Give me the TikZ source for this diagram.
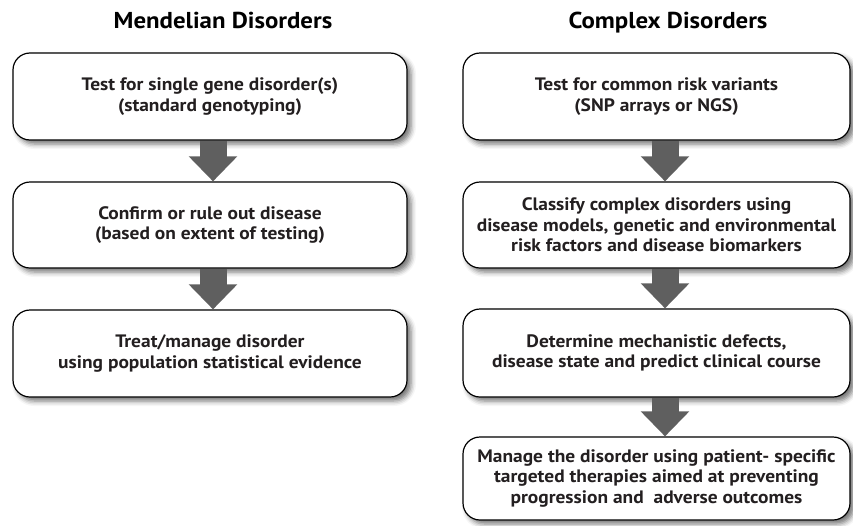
\documentclass[tikz,border=0pt]{standalone}
\usepackage{fontspec}
\setmainfont{PT Sans}[FakeStretch=1.08]
\usetikzlibrary{arrows.meta,calc,shadows.blur}
\definecolor{txt}{HTML}{231F20}
\definecolor{arrowgray}{HTML}{5F5F5F}
\begin{document}
\begin{tikzpicture}[x=1pt,y=-1pt,
  box/.style={draw=black, line width=1.2pt, rounded corners=17pt, fill=white,
    align=center, font=\bfseries\fontsize{18}{20.5}\selectfont, text=txt, inner sep=0pt,
    blur shadow={shadow xshift=4pt,shadow yshift=-4pt,shadow blur radius=5pt,shadow opacity=55}},
  lbox/.style={box, minimum width=394pt},
  rbox/.style={box, minimum width=387pt},
  title/.style={font=\bfseries\fontsize{23}{26}\selectfont, text=black, anchor=base},
  flow/.style={arrowgray, line width=27pt, -{Triangle[width=47pt,length=25pt]}}]
\useasboundingbox (0,0) rectangle (853,525);
\node[title] (tl) at (223,28) {Mendelian Disorders};
\node[title] (tr) at (668,28) {Complex Disorders};
% left column
\node[lbox, minimum height=87pt] (L1) at (210,96.5) {Test for single gene disorder(s)\\(standard genotyping)};
\node[lbox, minimum height=86pt] (L2) at (210,225) {Confirm or rule out disease\\(based on extent of testing)};
\node[lbox, minimum height=87pt] (L3) at (210,353.5) {Treat/manage disorder\\using population statistical evidence};
% right column
\node[rbox, minimum height=87pt] (R1) at (656.5,96.5) {Test for common risk variants\\(SNP arrays or NGS)};
\node[rbox, minimum height=86pt] (R2) at (656.5,225) {Classify complex disorders using\\disease models, genetic and environmental\\risk factors and disease biomarkers};
\node[rbox, minimum height=88pt] (R3) at (656.5,353) {Determine mechanistic defects,\\disease state and predict clinical course};
\node[rbox, minimum height=83pt] (R4) at (656.5,478.5) {Manage the disorder using patient- specific\\targeted therapies aimed at preventing\\progression and\ \ adverse outcomes};
% arrows
\draw[flow] ($(L1.south)+(3,0)$) -- ($(L2.north)+(3,0)$);
\draw[flow] ($(L2.south)+(3,0)$) -- ($(L3.north)+(3,0)$);
\draw[flow] ($(R1.south)+(8.5,0)$) -- ($(R2.north)+(8.5,0)$);
\draw[flow] ($(R2.south)+(8.5,0)$) -- ($(R3.north)+(8.5,0)$);
\draw[flow] ($(R3.south)+(8.5,0)$) -- ($(R4.north)+(8.5,0)$);
\end{tikzpicture}
\end{document}
